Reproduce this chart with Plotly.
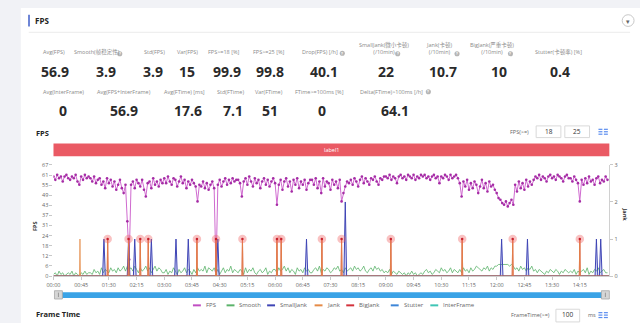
import plotly.graph_objects as go

# ---------------- data ----------------
row1_labels = ["Avg(FPS)", "Smooth(帧稳定性)", "Std(FPS)", "Var(FPS)", "FPS>=18 [%]", "FPS>=25 [%]",
               "Drop(FPS) [/h]", "SmallJank(微小卡顿)<br>(/10min)", "Jank(卡顿)<br>(/10min)",
               "BigJank(严重卡顿)<br>(/10min)", "Stutter(卡顿率) [%]"]
row1_values = ["56.9", "3.9", "3.9", "15", "99.9", "99.8", "40.1", "22", "10.7", "10", "0.4"]
row2_labels = ["Avg(InterFrame)", "Avg(FPS+InterFrame)", "Avg(FTime) [ms]", "Std(FTime)", "Var(FTime)",
               "FTime>=100ms [%]", "Delta(FTime)>100ms [/h]"]
row2_values = ["0", "56.9", "17.6", "7.1", "51", "0", "64.1"]

time_step = 3  # seconds between FPS / Smooth samples
fps = [
    60, 58, 61, 59, 60, 57, 60, 61, 59, 58, 60, 59, 61, 57, 55, 60, 58, 61, 59, 60,
    59, 57, 60, 56, 58, 59, 55, 57, 53, 59, 56, 58, 54, 57, 52, 55, 58, 53, 50, 55,
    33, 10, 55, 57, 53, 58, 56, 54, 58, 52, 48, 56, 57, 53, 59, 55, 57, 54, 58, 56,
    59, 56, 60, 57, 55, 59, 58, 54, 57, 60, 56, 58, 53, 57, 55, 58, 56, 54, 45, 55,
    54, 57, 53, 56, 52, 55, 57, 53, 3, 55, 58, 54, 57, 59, 55, 58, 56, 59, 57, 58,
    58, 56, 48, 57, 59, 55, 60, 57, 54, 59, 56, 58, 53, 57, 59, 55, 58, 54, 57, 59,
    56, 43, 55, 58, 52, 57, 59, 54, 57, 51, 58, 55, 59, 53, 57, 55, 58, 52, 56, 58,
    58, 55, 59, 53, 57, 50, 59, 54, 57, 56, 52, 58, 55, 57, 53, 58, 45, 50, 54, 57,
    56, 58, 55, 59, 57, 54, 58, 60, 56, 59, 57, 55, 59, 58, 60, 57, 55, 59, 58, 60,
    60, 59, 61, 58, 60, 59, 56, 60, 61, 59, 60, 58, 61, 60, 59, 61, 58, 60, 59, 61,
    60, 61, 59, 60, 58, 60, 61, 59, 60, 56, 60, 59, 61, 60, 58, 61, 59, 60, 61, 59,
    56, 48, 57, 54, 58, 52, 56, 53, 57, 55, 50, 54, 58, 53, 56, 51, 57, 54, 55, 52,
    50, 47, 46, 44, 43, 45, 42, 44, 46, 43, 55, 51, 57, 53, 56, 52, 58, 54, 57, 55,
    58, 60, 59, 61, 58, 60, 59, 57, 60, 61, 59, 60, 58, 61, 60, 59, 57, 60, 61, 59,
    59, 57, 60, 58, 56, 45, 58, 55, 59, 56, 60, 57, 58, 55, 59, 60, 56, 58, 57, 60,
    58]
smooth = [
    1, 2, 0, 3, 1, 2, 0, 1, 2, 1, 3, 0, 2, 1, 0, 2, 1, 3, 1, 2,
    2, 1, 4, 2, 3, 1, 5, 2, 4, 3, 2, 5, 3, 4, 2, 5, 3, 4, 6, 3,
    6, 4, 5, 3, 6, 4, 2, 5, 3, 4, 6, 3, 5, 2, 4, 6, 3, 5, 4, 2,
    2, 4, 1, 3, 2, 5, 3, 1, 4, 2, 3, 5, 2, 4, 3, 1, 4, 2, 5, 3,
    4, 3, 6, 2, 5, 4, 3, 5, 2, 4, 1, 3, 5, 2, 4, 3, 6, 2, 4, 3,
    2, 4, 3, 1, 5, 2, 4, 3, 5, 2, 1, 3, 4, 2, 3, 5, 1, 3, 2, 4,
    4, 2, 5, 3, 4, 6, 3, 5, 2, 4, 3, 1, 5, 3, 4, 2, 5, 3, 4, 2,
    2, 4, 5, 3, 6, 2, 4, 3, 5, 4, 2, 3, 5, 4, 6, 3, 4, 2, 5, 3,
    4, 5, 3, 6, 4, 5, 3, 4, 6, 3, 2, 4, 5, 3, 6, 4, 5, 3, 4, 2,
    3, 2, 4, 1, 3, 2, 1, 3, 2, 1, 2, 0, 2, 1, 3, 1, 2, 0, 1, 2,
    1, 3, 4, 2, 3, 1, 2, 4, 3, 2, 5, 3, 4, 2, 3, 5, 2, 4, 3, 2,
    4, 2, 5, 3, 4, 2, 5, 3, 4, 6, 5, 4, 3, 5, 4, 6, 3, 5, 4, 6,
    6, 7, 7, 7, 7, 7, 7, 6, 7, 6, 4, 5, 3, 6, 4, 5, 3, 5, 4, 6,
    3, 4, 2, 4, 3, 2, 1, 3, 2, 4, 3, 2, 4, 3, 1, 3, 2, 4, 3, 2,
    3, 2, 4, 1, 3, 2, 3, 4, 2, 5, 1, 3, 2, 4, 3, 5, 2, 3, 4, 2,
    2]
small_jank_t = [82, 122, 132, 159, 199, 219, 267, 411, 474, 728, 770, 882, 889]
small_jank_v = [1, 1, 1, 1, 1, 1, 1, 1, 2, 1, 1, 1, 1]
jank_t = [43, 88, 122, 141, 154, 233, 264, 307, 363, 370, 436, 468, 548, 664, 746, 855]
big_jank_t = [88, 122, 141, 154, 233, 264, 307, 363, 370, 436, 468, 548, 664, 746, 855]
stutter_t = []
interframe_t = []

time_ticks = ["00:00", "00:45", "01:30", "02:15", "03:00", "03:45", "04:30", "05:15", "06:00", "06:45",
              "07:30", "08:15", "09:00", "09:45", "10:30", "11:15", "12:00", "12:45", "13:30", "14:15"]
fps_tick_labels = ["0", "6", "12", "18", "24", "31", "37", "43", "49", "55", "61", "67"]
fps_max = 67
jank_max = 3
t_end = 903

legend_names = ["FPS", "Smooth", "SmallJank", "Jank", "BigJank", "Stutter", "InterFrame"]
c_fps, c_smooth, c_small, c_jank, c_big, c_stut, c_inter = (
    "#c14ec3", "#5bb36a", "#3f45b5", "#e58b47", "#d3323c", "#3d86d8", "#3fc5b5")
legend_colors = [c_fps, c_smooth, c_small, c_jank, c_big, c_stut, c_inter]

W, H = 640, 323
FONT = "Open Sans, Noto Sans CJK SC, sans-serif"


def X(px):
    return px / W


def Y(py):
    return 1 - py / H


def spikes(times, values, w):
    xs, ys = [0], [0]
    for t, v in sorted(zip(times, values)):
        xs += [t - w, t, t + w]
        ys += [0, v, 0]
    xs.append(t_end)
    ys.append(0)
    return xs, ys


t = [i * time_step for i in range(len(fps))]

fig = go.Figure()
fig.add_trace(go.Scatter(x=t, y=smooth, mode="lines", line=dict(color=c_smooth, width=0.8),
                         name="Smooth", yaxis="y"))
for times, col in ((stutter_t, c_stut), (interframe_t, c_inter)):
    sx, sy = spikes(times, [1] * len(times), 1)
    fig.add_trace(go.Scatter(x=sx, y=sy, mode="lines", line=dict(color=col, width=1), yaxis="y2"))
sx, sy = spikes(small_jank_t, small_jank_v, 2.2)
fig.add_trace(go.Scatter(x=sx, y=sy, mode="lines", line=dict(color=c_small, width=1),
                         fill="tozeroy", fillcolor="rgba(90,100,210,0.25)", yaxis="y2"))
sx, sy = spikes(big_jank_t, [1] * len(big_jank_t), 0.8)
fig.add_trace(go.Scatter(x=sx, y=sy, mode="lines", line=dict(color=c_big, width=0.8), yaxis="y2"))
sx, sy = spikes(jank_t, [1] * len(jank_t), 0.8)
fig.add_trace(go.Scatter(x=sx, y=sy, mode="lines", line=dict(color=c_jank, width=1),
                         opacity=0.8, yaxis="y2"))
fig.add_trace(go.Scatter(x=big_jank_t, y=[1] * len(big_jank_t), mode="markers",
                         marker=dict(size=8.5, color="rgba(240,95,95,0.38)"), yaxis="y2"))
fig.add_trace(go.Scatter(x=big_jank_t, y=[1] * len(big_jank_t), mode="markers",
                         marker=dict(size=2.5, color="#c8202c"), yaxis="y2"))
fig.add_trace(go.Scatter(x=t, y=fps, mode="lines+markers", line=dict(color="#cf6acf", width=1),
                         marker=dict(size=2.6, color="#a52ca5"), yaxis="y"))

shapes = []
annotations = []

# card and header
shapes.append(dict(type="rect", xref="paper", yref="paper", x0=X(14), x1=X(642), y0=Y(330), y1=Y(4),
                   fillcolor="white", line=dict(width=0), layer="below"))
shapes.append(dict(type="rect", xref="paper", yref="paper", x0=X(21.5), x1=X(23), y0=Y(23), y1=Y(11),
                   fillcolor="#3c5cc8", line=dict(width=0)))
shapes.append(dict(type="line", xref="paper", yref="paper", x0=X(22), x1=X(630), y0=Y(29), y1=Y(29),
                   line=dict(color="#ebebeb", width=1)))
annotations.append(dict(text="<b>FPS</b>", x=X(26), y=Y(17), xanchor="left", yanchor="middle",
                        font=dict(size=8, color="#222")))
shapes.append(dict(type="circle", xref="paper", yref="paper", x0=X(622), x1=X(634), y0=Y(23), y1=Y(11),
                   line=dict(color="#c8c8c8", width=1), fillcolor="white"))
annotations.append(dict(text="▾", x=X(628), y=Y(17.5), xanchor="center", yanchor="middle",
                        font=dict(size=7, color="#666")))

# stats
row1_lab_x = [48, 91, 149, 182, 219, 265, 316, 381, 437, 490, 558]
row1_val_x = [49, 100, 148, 182, 222, 266, 320, 383, 441, 497, 559]
row2_lab_x = [57, 118, 179, 226, 265, 316, 389]
row2_val_x = [57, 118, 183, 228, 266, 318, 392]
for lab, val, lx, vx in zip(row1_labels, row1_values, row1_lab_x, row1_val_x):
    annotations.append(dict(text=lab, x=X(lx), y=Y(55), xanchor="center", yanchor="bottom",
                            font=dict(size=5.5, color="#8a8a8a"), align="center"))
    annotations.append(dict(text=f"<b>{val}</b>", x=X(vx), y=Y(69), xanchor="center", yanchor="middle",
                            font=dict(size=14, color="#2a2a2a")))
for lab, val, lx, vx in zip(row2_labels, row2_values, row2_lab_x, row2_val_x):
    annotations.append(dict(text=lab, x=X(lx), y=Y(90), xanchor="center", yanchor="middle",
                            font=dict(size=5.5, color="#8a8a8a")))
    annotations.append(dict(text=f"<b>{val}</b>", x=X(vx), y=Y(109), xanchor="center", yanchor="middle",
                            font=dict(size=14, color="#2a2a2a")))
for qx, qy in [(114, 51), (339, 50.5), (395, 51), (455, 51), (509, 51), (426, 90)]:
    shapes.append(dict(type="circle", xref="paper", yref="paper", x0=X(qx - 2.6), x1=X(qx + 2.6),
                       y0=Y(qy + 2.6), y1=Y(qy - 2.6), fillcolor="#b5b5b5", line=dict(width=0)))
    annotations.append(dict(text="<b>?</b>", x=X(qx), y=Y(qy), xanchor="center", yanchor="middle",
                            font=dict(size=4, color="white")))

# chart header
annotations.append(dict(text="<b>FPS</b>", x=X(27), y=Y(132), xanchor="left", yanchor="middle",
                        font=dict(size=7.5, color="#222")))
annotations.append(dict(text="FPS(>=)", x=X(530), y=Y(131), xanchor="right", yanchor="middle",
                        font=dict(size=5.5, color="#666")))
for bx0, bx1, txt in [(535, 560, "18"), (564, 589, "25")]:
    shapes.append(dict(type="rect", xref="paper", yref="paper", x0=X(bx0), x1=X(bx1), y0=Y(137), y1=Y(125),
                       line=dict(color="#d9d9d9", width=1), fillcolor="white"))
    annotations.append(dict(text=txt, x=X((bx0 + bx1) / 2), y=Y(131), xanchor="center", yanchor="middle",
                            font=dict(size=6.5, color="#333")))
for ix0, ix1 in [(598, 602), (603.5, 607.5)]:
    for iy in (128.5, 131, 133.5):
        shapes.append(dict(type="line", xref="paper", yref="paper", x0=X(ix0), x1=X(ix1), y0=Y(iy), y1=Y(iy),
                           line=dict(color="#5b8def", width=1.2)))

# label bar
shapes.append(dict(type="rect", xref="paper", yref="paper", x0=X(47), x1=X(609), y0=Y(156), y1=Y(143),
                   fillcolor="#ea5a64", line=dict(width=0)))
annotations.append(dict(text="label1", x=X(328), y=Y(149.5), xanchor="center", yanchor="middle",
                        font=dict(size=5.5, color="white")))

# axis titles
annotations.append(dict(text="<b>FPS</b>", x=X(29), y=Y(228), textangle=-90, xanchor="center",
                        yanchor="middle", font=dict(size=5.5, color="#333")))
annotations.append(dict(text="<b>Jank</b>", x=X(625), y=Y(216), textangle=90, xanchor="center",
                        yanchor="middle", font=dict(size=5.5, color="#333")))

# data zoom slider
shapes.append(dict(type="rect", xref="paper", yref="paper", x0=X(50), x1=X(606), y0=Y(301.5), y1=Y(295.5),
                   fillcolor="#3aa3e6", line=dict(width=0)))
for hx in (48, 601):
    shapes.append(dict(type="rect", xref="paper", yref="paper", x0=X(hx), x1=X(hx + 8), y0=Y(302.5),
                       y1=Y(294), fillcolor="#d6d6d6", line=dict(color="#a8a8a8", width=0.8)))
    shapes.append(dict(type="line", xref="paper", yref="paper", x0=X(hx + 4), x1=X(hx + 4), y0=Y(300.5),
                       y1=Y(296), line=dict(color="#888", width=0.8)))

# legend (drawn manually to mimic compact line symbols)
leg_x = [188, 222, 263, 311, 343, 388, 428]
for name, col, lx in zip(legend_names, legend_colors, leg_x):
    shapes.append(dict(type="line", xref="paper", yref="paper", x0=X(lx), x1=X(lx + 8), y0=Y(309), y1=Y(309),
                       line=dict(color=col, width=2)))
    annotations.append(dict(text=name, x=X(lx + 11), y=Y(309), xanchor="left", yanchor="middle",
                            font=dict(size=6, color="#666")))

# bottom section
annotations.append(dict(text="<b>Frame Time</b>", x=X(27), y=Y(318), xanchor="left", yanchor="middle",
                        font=dict(size=7.5, color="#222")))
annotations.append(dict(text="FrameTime(>=)", x=X(551), y=Y(318.5), xanchor="right", yanchor="middle",
                        font=dict(size=5.5, color="#666")))
shapes.append(dict(type="rect", xref="paper", yref="paper", x0=X(555), x1=X(579), y0=Y(326), y1=Y(313),
                   line=dict(color="#d9d9d9", width=1), fillcolor="white"))
annotations.append(dict(text="100", x=X(567), y=Y(318.5), xanchor="center", yanchor="middle",
                        font=dict(size=6.5, color="#333")))
annotations.append(dict(text="ms", x=X(585), y=Y(318.5), xanchor="left", yanchor="middle",
                        font=dict(size=5.5, color="#666")))
for ix0, ix1 in [(598, 602), (603.5, 607.5)]:
    for iy in (316.5, 319, 321.5):
        shapes.append(dict(type="line", xref="paper", yref="paper", x0=X(ix0), x1=X(ix1), y0=Y(iy), y1=Y(iy),
                           line=dict(color="#5b8def", width=1.2)))

for a in annotations:
    a.setdefault("xref", "paper")
    a.setdefault("yref", "paper")
    a.setdefault("showarrow", False)

fig.update_layout(
    width=W, height=H, margin=dict(l=0, r=0, t=0, b=0),
    paper_bgcolor="#f1f2f6", plot_bgcolor="white", showlegend=False,
    font=dict(family=FONT, size=6, color="#666"),
    xaxis=dict(domain=[X(47), X(609)], range=[0, t_end], tickvals=[45 * i for i in range(len(time_ticks))],
               ticktext=time_ticks, tickfont=dict(size=5.5, color="#666"), ticks="outside", ticklen=3,
               tickcolor="#c8c8c8", showline=True, linecolor="#cfcfcf", linewidth=1, showgrid=False,
               zeroline=False, anchor="y"),
    yaxis=dict(domain=[Y(279), Y(165)], range=[0, fps_max],
               tickvals=[fps_max * i / (len(fps_tick_labels) - 1) for i in range(len(fps_tick_labels))],
               ticktext=fps_tick_labels, tickfont=dict(size=5.5, color="#666"), ticks="outside", ticklen=3,
               tickcolor="#c8c8c8", showline=False, showgrid=False, zeroline=False),
    yaxis2=dict(overlaying="y", side="right", range=[0, jank_max], tickvals=list(range(jank_max + 1)),
                tickfont=dict(size=5.5, color="#666"), ticks="outside", ticklen=3, tickcolor="#c8c8c8",
                showline=True, linecolor="#d0d0d0", showgrid=False, zeroline=False, anchor="x"),
    shapes=shapes, annotations=annotations,
)

fig.write_html("out.html")
